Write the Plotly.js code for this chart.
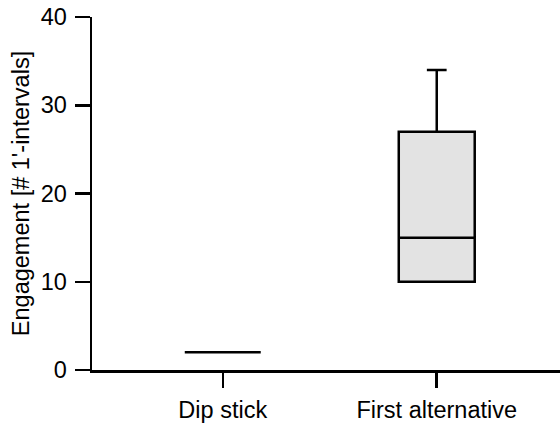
<!DOCTYPE html>
<html>
<head>
<meta charset="utf-8">
<script src="https://cdn.plot.ly/plotly-3.0.1.min.js"></script>
<style>html,body{margin:0;padding:0;background:#fff;}</style>
</head>
<body>
<div id="chart" style="width:560px;height:423px;"></div>
<script>
const categories = ['Dip stick', 'First alternative'];
const q1Values = [2, 10];
const medianValues = [2, 15];
const q3Values = [2, 27];
const lowerFenceValues = [2, 10];
const upperFenceValues = [2, 34];
const yTickValues = [0, 10, 20, 30, 40];

const FONT = 'Liberation Sans, Arial, Helvetica, sans-serif';

const trace = {
  type: 'box',
  x: categories,
  q1: q1Values,
  median: medianValues,
  q3: q3Values,
  lowerfence: lowerFenceValues,
  upperfence: upperFenceValues,
  boxpoints: false,
  width: 0.355,
  whiskerwidth: 0.26,
  fillcolor: '#e3e3e3',
  line: {color: '#000000', width: 2.5},
  hoverinfo: 'skip',
  showlegend: false
};

const layout = {
  width: 560,
  height: 423,
  margin: {l: 92, r: 0, t: 17, b: 53, pad: 0},
  paper_bgcolor: '#ffffff',
  plot_bgcolor: '#ffffff',
  font: {family: FONT, size: 23, color: '#000000'},
  showlegend: false,
  xaxis: {
    type: 'category',
    range: [-0.611, 1.576],
    showgrid: false,
    zeroline: false,
    showline: true,
    linecolor: '#000000',
    linewidth: 2.5,
    ticks: 'outside',
    ticklen: 15,
    tickwidth: 2.5,
    tickcolor: '#000000',
    ticklabelstandoff: 2,
    tickfont: {family: FONT, size: 23.5, color: '#000000'}
  },
  yaxis: {
    range: [0, 40],
    tickvals: yTickValues,
    ticktext: yTickValues.map(String),
    showgrid: false,
    zeroline: false,
    showline: true,
    linecolor: '#000000',
    linewidth: 2.5,
    ticks: 'outside',
    ticklen: 15,
    tickwidth: 2.5,
    tickcolor: '#000000',
    ticklabelstandoff: 3,
    tickfont: {family: FONT, size: 23.5, color: '#000000'},
    title: {text: "Engagement [# 1'-intervals]", font: {family: FONT, size: 23.5, color: '#000000'}, standoff: 5}
  }
};

Plotly.newPlot('chart', [trace], layout, {staticPlot: true, displayModeBar: false});
</script>
</body>
</html>
